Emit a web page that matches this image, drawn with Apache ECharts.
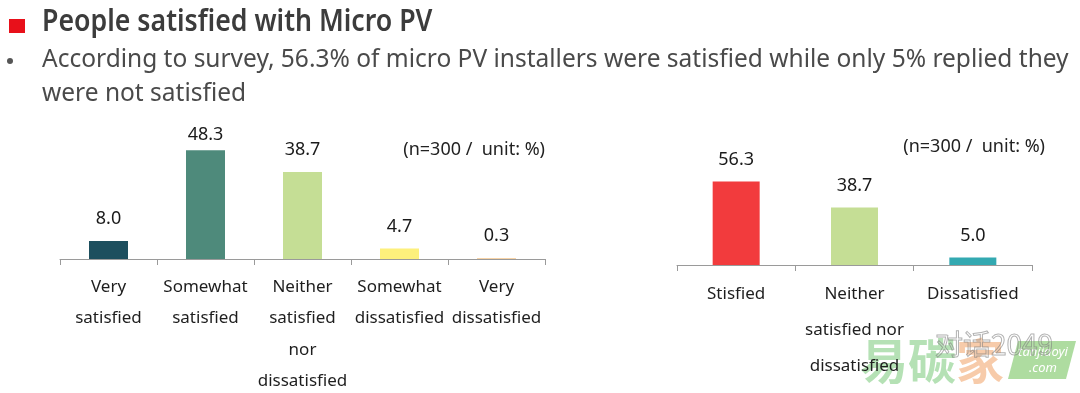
<!DOCTYPE html>
<html><head><meta charset="utf-8">
<script src="https://cdn.jsdelivr.net/npm/echarts@6/dist/echarts.min.js"></script>
<style>html,body{margin:0;padding:0;background:#fff}#c{width:1080px;height:393px}</style>
</head><body><div id="c"></div>
<script>
const leftCategories = ['Very\nsatisfied', 'Somewhat\nsatisfied', 'Neither\nsatisfied\nnor\ndissatisfied', 'Somewhat\ndissatisfied', 'Very\ndissatisfied'];
const leftValues = [8.0, 48.3, 38.7, 4.7, 0.3];
const leftColors = ['#1d4f5e', '#4e8a7b', '#c5de95', '#fdf07c', '#f5c48a'];
const rightCategories = ['Stisfied', 'Neither\nsatisfied nor\ndissatisfied', 'Dissatisfied'];
const rightValues = [56.3, 38.7, 5.0];
const rightColors = ['#f23b3d', '#c5de95', '#33a9b1'];
const titleText = 'People satisfied with Micro PV';
const bulletLine1 = 'According to survey, 56.3% of micro PV installers were satisfied while only 5% replied they';
const bulletLine2 = 'were not satisfied';
const noteText = '(n=300 /  unit: %)';

const FONT = '"Noto Sans", "Open Sans", sans-serif';
const chart = echarts.init(document.getElementById('c'), null, {renderer: 'canvas'});

const axisCommon = {
  type: 'category',
  axisLine: {lineStyle: {color: '#9a9a9a', width: 1}},
  axisTick: {show: true, length: 6, lineStyle: {color: '#9a9a9a'}},
  axisLabel: {interval: 0, fontFamily: FONT, fontSize: 17, color: '#1e1e1e'}
};
const leftMax = Math.max(...leftValues);

chart.setOption({
  animation: false,
  grid: [
    {left: 60, width: 485, top: 124, height: 135, outerBoundsMode: 'none', containLabel: false},
    {left: 677, width: 355, top: 176, height: 89, outerBoundsMode: 'none', containLabel: false}
  ],
  xAxis: [
    Object.assign({}, axisCommon, {gridIndex: 0, data: leftCategories,
      axisLabel: Object.assign({}, axisCommon.axisLabel, {margin: 12, lineHeight: 31.5})}),
    Object.assign({}, axisCommon, {gridIndex: 1, data: rightCategories,
      axisLabel: Object.assign({}, axisCommon.axisLabel, {margin: 11, lineHeight: 36})})
  ],
  yAxis: [
    {gridIndex: 0, type: 'value', min: 0, max: 60, show: false},
    {gridIndex: 1, type: 'value', min: 0, max: 60, show: false}
  ],
  series: [
    {
      type: 'bar', xAxisIndex: 0, yAxisIndex: 0, barWidth: 39,
      data: leftValues.map((v, i) => ({
        value: v, itemStyle: {color: leftColors[i]},
        label: v === leftMax ? {distance: 6} : {}
      })),
      label: {show: true, position: 'top', distance: 13, fontFamily: FONT, fontSize: 18, color: '#1a1a1a',
        formatter: p => p.value.toFixed(1)}
    },
    {
      type: 'bar', xAxisIndex: 1, yAxisIndex: 1, barWidth: 47,
      data: rightValues.map((v, i) => ({value: v, itemStyle: {color: rightColors[i]}})),
      label: {show: true, position: 'top', distance: 13, fontFamily: FONT, fontSize: 18, color: '#1a1a1a',
        formatter: p => p.value.toFixed(1)}
    }
  ],
  graphic: [
    {type: 'rect', shape: {x: 9, y: 19, width: 16, height: 14}, style: {fill: '#e8101a'}},
    {type: 'text', x: 42, y: 22, scaleX: 0.89, style: {text: titleText, x: 0, y: 0, verticalAlign: 'middle',
      fontFamily: FONT, fontSize: 30, fontWeight: 600, fill: '#3c3c3c'}},
    {type: 'circle', shape: {cx: 10, cy: 61, r: 3}, style: {fill: '#555'}},
    {type: 'text', style: {text: bulletLine1, x: 42, y: 60, verticalAlign: 'middle',
      fontFamily: FONT, fontSize: 24.5, fill: '#4a4a4a'}},
    {type: 'text', style: {text: bulletLine2, x: 42, y: 94, verticalAlign: 'middle',
      fontFamily: FONT, fontSize: 24.5, fill: '#4a4a4a'}},
    {type: 'text', style: {text: noteText, x: 545, y: 150, align: 'right', verticalAlign: 'middle',
      fontFamily: FONT, fontSize: 18, fill: '#222'}},
    {type: 'text', style: {text: noteText, x: 1045, y: 147, align: 'right', verticalAlign: 'middle',
      fontFamily: FONT, fontSize: 18, fill: '#222'}},
    // watermark
    {type: 'text', style: {text: '易碳', x: 860, y: 361, verticalAlign: 'middle',
      fontFamily: '"Noto Sans CJK SC", sans-serif', fontSize: 48, fontWeight: 700, fill: 'rgba(120,200,120,0.55)'}},
    {type: 'text', style: {text: '家', x: 956, y: 361, verticalAlign: 'middle',
      fontFamily: '"Noto Sans CJK SC", sans-serif', fontSize: 48, fontWeight: 700, fill: 'rgba(240,160,100,0.55)'}},
    {type: 'polygon', shape: {points: [[1018, 341], [1076, 341], [1066, 379], [1008, 379]]},
      style: {fill: 'rgba(140,205,120,0.7)'}},
    {type: 'text', style: {text: 'tanjiaoyi\n.com', x: 1043, y: 360, align: 'center', verticalAlign: 'middle',
      fontFamily: FONT, fontSize: 13, fontStyle: 'italic', lineHeight: 16, fill: '#fff'}},
    {type: 'text', style: {text: '对话2049', x: 935, y: 344, verticalAlign: 'middle',
      fontFamily: '"Noto Sans CJK SC", sans-serif', fontSize: 28, fill: 'rgba(255,255,255,0.1)',
      stroke: 'rgba(120,120,120,0.6)', lineWidth: 1}}
  ]
});
</script></body></html>
